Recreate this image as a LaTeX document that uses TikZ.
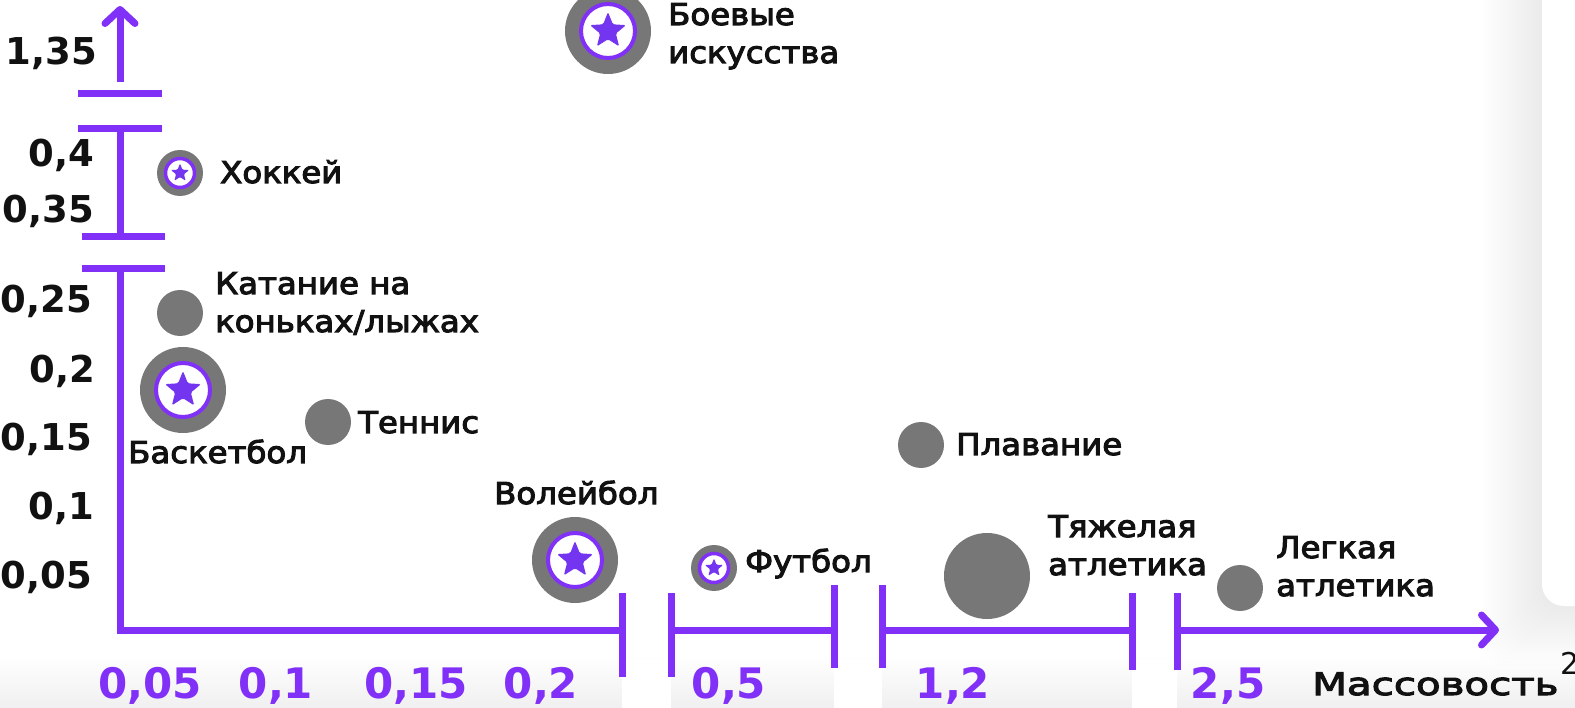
\documentclass[tikz,border=0pt]{standalone}
\usepackage{fontspec}
\setmainfont{DejaVu Sans}
\newfontfamily\lblfont[FakeStretch=1.08,FakeBold=3.5]{DejaVu Sans}
\newfontfamily\widefont[FakeStretch=1.3,FakeBold=3.5]{DejaVu Sans}
\newfontfamily\numfont{DejaVu Sans}
\usetikzlibrary{arrows.meta,shapes.geometric,positioning}

\definecolor{axispurple}{HTML}{8130F8}
\definecolor{starpurple}{HTML}{7335F0}
\definecolor{bubblegray}{HTML}{777777}
\definecolor{inktext}{HTML}{111111}

\tikzset{
	axis/.style={axispurple, line width=7pt},
	axisarrow/.style={axis, -{Straight Barb[length=14pt,width=30pt,round]}},
	bigbubble/.style={circle, fill=bubblegray, inner sep=0pt, minimum size=86pt},
	smallbubble/.style={circle, fill=bubblegray, inner sep=0pt, minimum size=46pt},
	bigring/.style={circle, fill=white, draw=axispurple, line width=4pt, inner sep=0pt, minimum size=54pt},
	smallring/.style={circle, fill=white, draw=axispurple, line width=3.5pt, inner sep=0pt, minimum size=29pt},
	bigstar/.style={star, star points=5, star point ratio=2.3, fill=starpurple, inner sep=0pt, minimum size=38pt, rounded corners=1.5pt},
	smallstar/.style={star, star points=5, star point ratio=2.3, fill=starpurple, inner sep=0pt, minimum size=19pt, rounded corners=1pt},
	lbl/.style={font=\lblfont\fontsize{30}{38}\selectfont, text=inktext, align=left, inner sep=0pt, anchor=base west},
	ytick/.style={font=\numfont\bfseries\fontsize{37}{37}\selectfont, text=inktext, inner sep=0pt, anchor=base east},
	xtick/.style={font=\numfont\bfseries\fontsize{42}{42}\selectfont, text=axispurple, inner sep=0pt, anchor=base}
}

\begin{document}
\begin{tikzpicture}[x=1pt,y=-1pt]
	% Frame
	\useasboundingbox (0,0) rectangle (1575,708);
	\clip (0,0) rectangle (1575,708);
	\shade[top color=white, bottom color=black!6] (0,655) rectangle (1575,708);
	\fill[white] (622,660) rectangle (671,708);
	\fill[white] (834,660) rectangle (882,708);
	\fill[white] (1132,660) rectangle (1177,708);
	% Side panel with its shadow
	\foreach \s in {3,6,...,60}
		\fill[black, opacity=0.005, rounded corners=22pt] (1542-\s,-40) rectangle (1620,606+\s);
	\fill[white, rounded corners=22pt] (1542,-40) rectangle (1620,606);

	% Draw axes
	%Y
	\draw[axis] (622,630) -- (120,630) -- (120,269);
	\draw[axis] (82,269) -- (165,269);
	\draw[axis] (82,237) -- (165,237);
	\draw[axis] (120,237) -- (120,129);
	\draw[axis] (78,129) -- (162,129);
	\draw[axis] (78,94) -- (162,94);
	\draw[axisarrow] (120,82) -- (120,6);
	%X
	\draw[axis] (622,593) -- (622,677);
	\draw[axis] (671,593) -- (671,677);
	\draw[axis] (671,630) -- (834,630);
	\draw[axis] (834,585) -- (834,668);
	\draw[axis] (882,585) -- (882,668);
	\draw[axis] (882,630) -- (1132,630);
	\draw[axis] (1132,593) -- (1132,670);
	\draw[axis] (1177,593) -- (1177,670);
	\draw[axisarrow] (1177,630) -- (1499,630);

	% Ticks
	\node[ytick] (y135) at (97,65) {1,35};
	\node[ytick] (y40) at (94,167) {0,4};
	\node[ytick] (y35) at (94,223) {0,35};
	\node[ytick] (y25) at (92,313) {0,25};
	\node[ytick] (y20) at (95,383) {0,2};
	\node[ytick] (y15) at (92,451) {0,15};
	\node[ytick] (y10) at (94,519) {0,1};
	\node[ytick] (y05) at (92,588) {0,05};
	\node[xtick] (x005) at (150,698) {0,05};
	\node[xtick] (x01) at (276,698) {0,1};
	\node[xtick] (x015) at (416,698) {0,15};
	\node[xtick] (x02) at (541,698) {0,2};
	\node[xtick] (x05) at (729,698) {0,5};
	\node[xtick] (x12) at (953,698) {1,2};
	\node[xtick] (x25) at (1228,698) {2,5};
	\node[lbl, font=\widefont\fontsize{31}{31}\selectfont] (massa) at (1312,695) {Массовость};
	\node[font=\numfont\fontsize{30}{30}\selectfont, text=inktext, inner sep=0pt, anchor=base west] (sq) at (1560,674) {2};

	% Bubbles with a star
	\node[bigbubble] (boi) at (608,31) {};
	\node[bigring] (boiring) at (boi) {};
	\node[bigstar] (boistar) at (boi) {};
	\node[smallbubble] (hockey) at (180,173) {};
	\node[smallring] (hockeyring) at (hockey) {};
	\node[smallstar] (hockeystar) at (hockey) {};
	\node[bigbubble] (basket) at (183,390) {};
	\node[bigring] (basketring) at (basket) {};
	\node[bigstar] (basketstar) at (basket) {};
	\node[bigbubble] (volley) at (575,560) {};
	\node[bigring] (volleyring) at (volley) {};
	\node[bigstar] (volleystar) at (volley) {};
	\node[smallbubble] (foot) at (714,568) {};
	\node[smallring] (footring) at (foot) {};
	\node[smallstar] (footstar) at (foot) {};

	% Plain bubbles
	\node[smallbubble] (skate) at (180,313) {};
	\node[smallbubble] (tennis) at (328,422) {};
	\node[smallbubble] (swim) at (921,445) {};
	\node[bigbubble] (heavy) at (987,576) {};
	\node[smallbubble] (light) at (1240,588) {};

	% Sport names
	\node[lbl] (boilbl) at (668,63) {Боевые\\искусства};
	\node[lbl] (hockeylbl) at (220,183) {Хоккей};
	\node[lbl] (skatelbl) at (215,332) {Катание на\\коньках/лыжах};
	\node[lbl] (basketlbl) at (128,463) {Баскетбол};
	\node[lbl] (tennislbl) at (358,433) {Теннис};
	\node[lbl] (volleylbl) at (494,504) {Волейбол};
	\node[lbl] (footlbl) at (745,572) {Футбол};
	\node[lbl] (swimlbl) at (956,455) {Плавание};
	\node[lbl] (heavylbl) at (1048,575) {Тяжелая\\атлетика};
	\node[lbl] (lightlbl) at (1276,596) {Легкая\\атлетика};
\end{tikzpicture}
\end{document}
